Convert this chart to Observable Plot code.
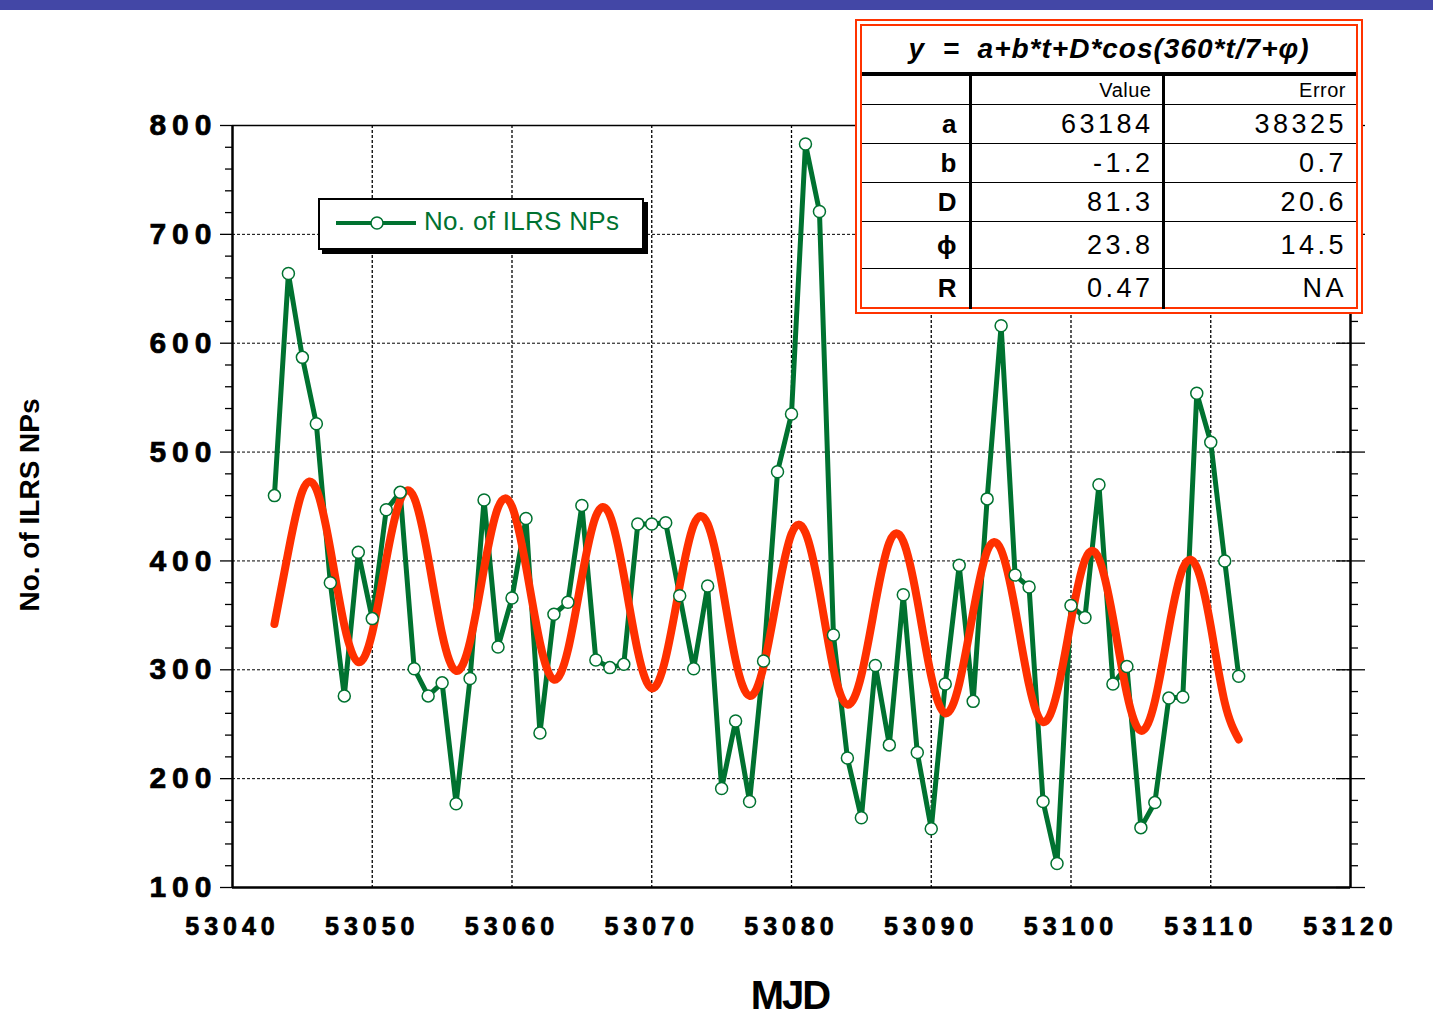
<!DOCTYPE html>
<html>
<head>
<meta charset="utf-8">
<script src="https://cdn.jsdelivr.net/npm/d3@7"></script>
<script src="https://cdn.jsdelivr.net/npm/@observablehq/plot@0.6"></script>
<style>
  html, body { margin: 0; padding: 0; background: #fff; overflow: hidden; }
  #wrap { position: relative; width: 1433px; height: 1023px; font-family: "Liberation Sans", Arial, sans-serif; }
  #topbar { position: absolute; left: 0; top: 0; width: 1433px; height: 10px; background: #4347a6; z-index: 3; }
  #chart { position: absolute; left: 0; top: 0; }
  g[aria-label="y-axis tick label"] { letter-spacing: 6px; }
  g[aria-label="y-axis tick label"] text, g[aria-label="x-axis tick label"] text { stroke: #000; stroke-width: 0.7px; }
  g[aria-label="x-axis tick label"] { letter-spacing: 5px; }
  #ytitle { position: absolute; left: -120px; top: 488px; width: 300px; height: 34px; line-height: 34px;
            text-align: center; transform: rotate(-90deg); font-weight: bold; font-size: 28px; color: #000; }
  #xtitle { position: absolute; left: 640px; top: 973px; width: 300px; height: 45px; line-height: 45px;
            text-align: center; font-weight: bold; font-size: 40px; letter-spacing: -2px; color: #000; }
  #legend { position: absolute; left: 318px; top: 198px; width: 322px; height: 48px; border: 2px solid #000;
            box-shadow: 4px 4px 0 #000; background: #fff; }
  #legend svg { position: absolute; left: 12px; top: 12px; }
  #legend span { position: absolute; left: 104px; top: 7px; font-size: 26px; letter-spacing: 0.3px; color: #007230; line-height: 28px; }
  #fit { position: absolute; left: 855px; top: 19px; width: 508px; height: 295px; box-sizing: border-box;
         border: 7px double #ff3300; background: #fff; }
  #fit table { border-collapse: collapse; table-layout: fixed; width: 494px; height: 281px; }
  #fit td { padding: 0; color: #000; }
  #fit .title { height: 46px; border-bottom: 4px solid #000; text-align: center; font-weight: bold; font-style: italic;
                font-size: 28px; letter-spacing: 1px; white-space: pre; }
  #fit .row td { border-bottom: 1.5px solid #000; }
  #fit .lab { font-weight: bold; font-size: 26px; text-align: right; padding-right: 12px; border-right: 3px solid #000; }
  #fit .val { font-size: 27px; text-align: right; padding-right: 8px; letter-spacing: 3.5px; border-right: 3px solid #000; }
  #fit .err { font-size: 27px; text-align: right; padding-right: 9px; letter-spacing: 3.5px; }
  #fit .hdr td { height: 28px; font-size: 20px; letter-spacing: 0.5px; padding-right: 10px; }
  #fit tr:last-child td { border-bottom: none; }
</style>
</head>
<body>
<div id="wrap">
  <div id="topbar"></div>
  <div id="chart"></div>
  <div id="ytitle">No. of ILRS NPs</div>
  <div id="xtitle">MJD</div>
  <div id="legend">
    <svg width="84" height="22"><line x1="4" y1="11" x2="84" y2="11" stroke="#007230" stroke-width="4"/><circle cx="45" cy="11" r="6" fill="#fff" stroke="#007230" stroke-width="1.5"/></svg>
    <span id="legendText"></span>
  </div>
  <div id="fit"></div>
</div>
<script>
// ---- data ----
const mjd = [53043, 53044, 53045, 53046, 53047, 53048, 53049, 53050, 53051, 53052,
             53053, 53054, 53055, 53056, 53057, 53058, 53059, 53060, 53061, 53062,
             53063, 53064, 53065, 53066, 53067, 53068, 53069, 53070, 53071, 53072,
             53073, 53074, 53075, 53076, 53077, 53078, 53079, 53080, 53081, 53082,
             53083, 53084, 53085, 53086, 53087, 53088, 53089, 53090, 53091, 53092,
             53093, 53094, 53095, 53096, 53097, 53098, 53099, 53100, 53101, 53102,
             53103, 53104, 53105, 53106, 53107, 53108, 53109, 53110, 53111, 53112];
const ilrsNPs = [460, 664, 587, 526, 380, 276, 408, 347, 447, 463,
                 301, 276, 288, 177, 292, 456, 321, 366, 439, 242,
                 351, 362, 451, 309, 302, 305, 434, 434, 435, 368,
                 301, 377, 191, 253, 179, 308, 482, 535, 783, 721,
                 332, 219, 164, 304, 231, 369, 224, 154, 287, 396,
                 271, 457, 616, 387, 376, 179, 122, 359, 348, 470,
                 287, 303, 155, 178, 274, 275, 554, 509, 400, 294];
const fitCurve = [342, 409, 464, 466, 411, 341, 307, 334, 401, 456,
                  458, 403, 333, 299, 326, 393, 449, 450, 395, 325,
                  291, 318, 385, 441, 442, 387, 317, 283, 311, 377,
                  433, 434, 380, 309, 276, 303, 369, 425, 426, 372,
                  301, 268, 295, 361, 417, 418, 364, 294, 260, 287,
                  353, 409, 410, 356, 286, 252, 279, 345, 401, 402,
                  348, 278, 244, 271, 338, 393, 394, 340, 270, 236];
const xTicks = [53040, 53050, 53060, 53070, 53080, 53090, 53100, 53110, 53120];
const xGrid = [53050, 53060, 53070, 53080, 53090, 53100, 53110];
const xEdges = [53040, 53120];
const yTicks = [100, 200, 300, 400, 500, 600, 700, 800];
const yGrid = [200, 300, 400, 500, 600, 700];
const yMinor = [120, 140, 160, 180, 220, 240, 260, 280, 320, 340, 360, 380, 420, 440, 460, 480,
                520, 540, 560, 580, 620, 640, 660, 680, 720, 740, 760, 780];
const yBottom = [100];
const yTop = [800];
const legendLabel = "No. of ILRS NPs";
const fitTitle = "y  =  a+b*t+D*cos(360*t/7+\u03c6)";
const fitHeader = ["", "Value", "Error"];
const fitParams = ["a", "b", "D", "\u03d5", "R"];
const fitValues = ["63184", "-1.2", "81.3", "23.8", "0.47"];
const fitErrors = ["38325", "0.7", "20.6", "14.5", "NA"];

const GREEN = "#007230";
const RED = "#ff3000";

document.getElementById("legendText").textContent = legendLabel;

const rows = mjd.map((t, i) => ({t, n: ilrsNPs[i], fit: fitCurve[i]}));

const chart = Plot.plot({
  width: 1433,
  height: 1023,
  marginTop: 125,
  marginBottom: 136,
  marginLeft: 232,
  marginRight: 83,
  style: {fontFamily: "'Liberation Sans', Arial, sans-serif", fontWeight: "bold", background: "transparent", color: "#000"},
  x: {domain: [53040, 53120]},
  y: {domain: [100, 800]},
  marks: [
    Plot.ruleY(yGrid, {stroke: "#000", strokeWidth: 1, strokeDasharray: "3,2"}),
    Plot.ruleX(xGrid, {stroke: "#000", strokeWidth: 1.3, strokeDasharray: "3,2"}),
    Plot.ruleY(yTop, {stroke: "#000", strokeWidth: 1.5}),
    Plot.ruleY(yBottom, {stroke: "#000", strokeWidth: 2.5}),
    Plot.ruleX(xEdges, {stroke: "#000", strokeWidth: 2.5}),
    Plot.axisY({ticks: yTicks, tickSize: 12, tickPadding: 3, fontSize: 30, tickFormat: d => String(d), label: null, strokeWidth: 1.3}),
    Plot.axisY({ticks: yMinor, tickSize: 7, tickFormat: () => "", label: null, strokeWidth: 1.3}),
    Plot.axisY({anchor: "right", ticks: yTicks, tickSize: 14, tickFormat: () => "", label: null, strokeWidth: 1.3}),
    Plot.axisY({anchor: "right", ticks: yTicks, tickSize: -15, tickFormat: () => "", label: null, strokeWidth: 1.3}),
    Plot.axisY({anchor: "right", ticks: yMinor, tickSize: 7, tickFormat: () => "", label: null, strokeWidth: 1.3}),
    Plot.axisX({ticks: xTicks, tickSize: 0, tickPadding: 30, fontSize: 25, tickFormat: d => String(d), label: null}),
    Plot.line(rows, {x: "t", y: "n", stroke: GREEN, strokeWidth: 5, strokeLinejoin: "round"}),
    Plot.line(rows, {x: "t", y: "fit", stroke: RED, strokeWidth: 8, curve: "natural", strokeLinejoin: "round"}),
    Plot.dot(rows, {x: "t", y: "n", r: 6, fill: "#fff", stroke: GREEN, strokeWidth: 1.5})
  ]
});
document.getElementById("chart").appendChild(chart);

// ---- fit table ----
const tbl = document.createElement("table");
let html = `<tr><td class="title" colspan="3">${fitTitle}</td></tr>`;
html += `<tr class="hdr row"><td class="lab">${fitHeader[0]}</td><td class="val">${fitHeader[1]}</td><td class="err">${fitHeader[2]}</td></tr>`;
const heights = [39, 39, 39, 47, 40];
fitParams.forEach((p, i) => {
  html += `<tr class="row" style="height:${heights[i]}px"><td class="lab">${p}</td><td class="val">${fitValues[i]}</td><td class="err">${fitErrors[i]}</td></tr>`;
});
tbl.innerHTML = `<colgroup><col style="width:108px"><col style="width:193px"><col style="width:193px"></colgroup>` + html;
document.getElementById("fit").appendChild(tbl);
</script>
</body>
</html>
